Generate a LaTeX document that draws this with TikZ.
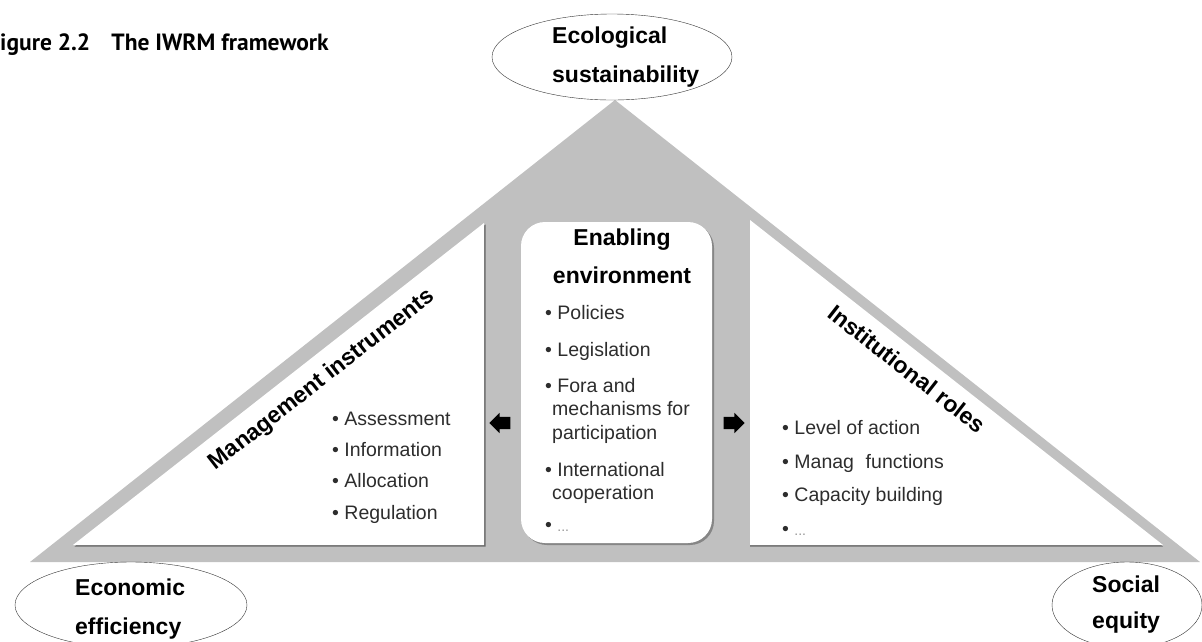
\documentclass[tikz,border=0pt]{standalone}
\usepackage{fontspec}
\setmainfont{Liberation Sans}
\newfontfamily\captionfont{PT Sans}
\usetikzlibrary{shapes.geometric,shapes.arrows,shadows,positioning}

\definecolor{framegray}{RGB}{192,192,192}
\definecolor{edgegray}{RGB}{105,105,105}
\definecolor{itemgray}{RGB}{45,45,45}
\definecolor{dotgray}{RGB}{150,150,150}

\tikzset{
  pole/.style={draw=black!80, thin, ellipse, fill=white, inner sep=0pt},
  head/.style={font=\fontsize{23}{39}\selectfont\bfseries, align=left, anchor=base west, inner sep=0pt},
  items/.style={font=\fontsize{19.5}{23.5}\selectfont, text=itemgray, align=left, anchor=base west, inner sep=0pt},
  slanted/.style={font=\fontsize{23}{26}\selectfont\bfseries, inner sep=0pt},
  blockarrow/.style={single arrow, fill=black, minimum height=21pt, inner xsep=0pt, inner ysep=6pt,
    single arrow head extend=4pt}
}
\newcommand{\more}{\textbullet\ \textcolor{dotgray}{\fontsize{14}{16}\selectfont...}}

\begin{document}
\begin{tikzpicture}[x=1pt,y=-1pt]
  \useasboundingbox (0,0) rectangle (1202,641);
  \clip (0,0) rectangle (1202,641);
  \fill[white] (0,0) rectangle (1202,641);

  %--- Caption
  \node[font=\captionfont\bfseries\fontsize{23.5}{26}\selectfont, anchor=base west, inner sep=0pt]
    (fig) at (0,50) {igure 2.2\hspace{0.9em}The IWRM framework};

  %--- Triangle frame and the two side panels
  \fill[framegray] (30,562) -- (615,100) -- (1200,562) -- cycle;
  \fill[edgegray, shift={(1.5,1.5)}] (73,545) -- (484,545) -- (484,223) -- cycle;
  \fill[white] (73,545) -- (484,545) -- (484,223) -- cycle;
  \fill[edgegray, shift={(0,1.5)}] (750,545) -- (1163,545) -- (750,220) -- cycle;
  \fill[white] (750,545) -- (1163,545) -- (750,220) -- cycle;

  %--- Enabling environment box (base anchor = last line)
  \node[fill=white, rounded corners=24pt, minimum width=191pt, minimum height=321pt, inner sep=0pt,
        drop shadow={shadow xshift=2pt, shadow yshift=-2pt, fill=black, opacity=0.3}]
    (env) at (616.5,382.5) {};
  \node[font=\fontsize{23}{38}\selectfont\bfseries, align=center, anchor=base, inner sep=0pt]
    (envtitle) at (622,283) {Enabling\\environment};
  \node[items, font=\fontsize{19.5}{23.5}\selectfont] (envlist) at (545,531)
    {\textbullet\ Policies\\[13.5pt]
     \textbullet\ Legislation\\[12.5pt]
     \textbullet\ Fora and\\
     \hspace*{7pt}mechanisms for\\
     \hspace*{7pt}participation\\[13.5pt]
     \textbullet\ International\\
     \hspace*{7pt}cooperation\\[8pt]
     \more};

  %--- Arrows out of the centre
  \node[blockarrow, shape border rotate=180] (toleft) at (503,423) {};
  \node[blockarrow] (toright) at (731,423) {};

  %--- Management instruments
  \node[slanted, rotate=38] (mgmt) at (322,380) {Management instruments};
  \node[items, font=\fontsize{19.5}{31.3}\selectfont] (mgmtlist) at (332,519)
    {\textbullet\ Assessment\\ \textbullet\ Information\\ \textbullet\ Allocation\\ \textbullet\ Regulation};

  %--- Institutional roles
  \node[slanted, rotate=-38] (inst) at (907,369) {Institutional roles};
  \node[items, font=\fontsize{19.5}{33.5}\selectfont] (instlist) at (782,535)
    {\textbullet\ Level of action\\ \textbullet\ Manag\hspace{0.6em}functions\\
     \textbullet\ Capacity building\\ \more};

  %--- The three poles
  \node[pole, minimum width=240pt, minimum height=86pt] (ecol) at (612,57) {};
  \node[head] (ecoltxt) at (552,82) {Ecological\\sustainability};
  \node[pole, minimum width=232pt, minimum height=86pt] (econ) at (131,605) {};
  \node[head] (econtxt) at (75,634) {Economic\\efficiency};
  \node[pole, minimum width=150pt, minimum height=86pt] (soc) at (1127,605) {};
  \node[head, font=\fontsize{23}{36}\selectfont\bfseries] (soctxt) at (1092,628) {Social\\equity};

\end{tikzpicture}
\end{document}
